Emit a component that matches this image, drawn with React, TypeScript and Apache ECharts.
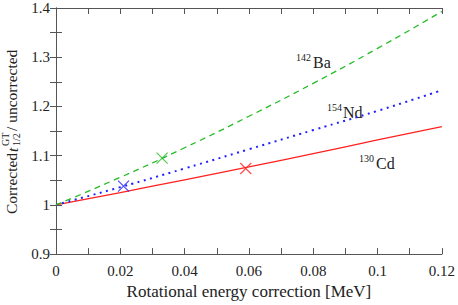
import React, { useEffect, useRef } from "react";
import * as echarts from "echarts";

const xValues = [0, 0.02, 0.04, 0.06, 0.08, 0.1, 0.12];
const cdValues = [1.0, 1.025, 1.051, 1.077, 1.104, 1.132, 1.159];
const ndValues = [1.0, 1.036, 1.074, 1.113, 1.152, 1.191, 1.233];
const baValues = [1.0, 1.056, 1.116, 1.18, 1.247, 1.318, 1.393];

const cdMarker = [0.059, 1.074];
const ndMarker = [0.021, 1.038];
const baMarker = [0.033, 1.095];

const xTitle = "Rotational energy correction [MeV]";

const FONT = "'Liberation Serif', 'Times New Roman', 'DejaVu Serif', serif";
const TXT = "#222";
const AX = "#555";
const RED = "#ff2020";
const BLUE = "#2020ff";
const GREEN = "#26bb26";
const CROSS = "path://M0,0L10,10M0,10L10,0";

const fmt = (v: number) => String(Number(v.toFixed(2)));

export default function App() {
  const ref = useRef<HTMLDivElement>(null);
  useEffect(() => {
    if (!ref.current) return;
    const chart = echarts.init(ref.current, undefined, { renderer: "svg" });
    const axisCommon = {
      type: "value" as const,
      axisLine: { show: true, lineStyle: { color: AX, width: 1 } },
      axisTick: { show: true, inside: true, length: 6, lineStyle: { color: AX } },
      minorTick: { show: true, splitNumber: 2, length: 6, lineStyle: { color: AX } },
      splitLine: { show: false },
    };
    const labelStyle = { fontFamily: FONT, fontSize: 15, color: TXT };
    const mk = (d: number[], color: string, name: string) => ({
      name,
      type: "scatter",
      data: [d],
      symbol: CROSS,
      symbolSize: 11,
      itemStyle: { color: "transparent", borderColor: color, borderWidth: 1.2 },
      z: 5,
    });
    const ln = (vals: number[], color: string, type: any, width: number, name: string) => ({
      name,
      type: "line",
      data: xValues.map((x, i) => [x, vals[i]]),
      smooth: true,
      showSymbol: false,
      lineStyle: { color, type, width, cap: "butt" },
    });
    const t = (text: string, x: number, y: number, size: number, extra: any = {}) => ({
      type: "text",
      x,
      y,
      rotation: extra.rotation || 0,
      style: {
        text,
        fontFamily: FONT,
        fontSize: size,
        fontStyle: extra.italic ? "italic" : "normal",
        fill: TXT,
        align: "left",
        verticalAlign: extra.va || "bottom",
      },
    });
    const R = Math.PI / 2;
    chart.setOption({
      animation: false,
      grid: { left: 56, right: 16, top: 8, bottom: 44 },
      xAxis: [
        {
          ...axisCommon,
          position: "bottom",
          min: 0,
          max: 0.12,
          interval: 0.02,
          axisLabel: { ...labelStyle, margin: 9, formatter: fmt, showMaxLabel: true },
          name: xTitle,
          nameLocation: "middle",
          nameGap: 21,
          nameTextStyle: { ...labelStyle, fontSize: 17, verticalAlign: "top" },
        },
        {
          ...axisCommon,
          position: "top",
          min: 0,
          max: 0.12,
          interval: 0.02,
          axisLabel: { show: false },
        },
      ],
      yAxis: [
        {
          ...axisCommon,
          position: "left",
          min: 0.9,
          max: 1.4,
          interval: 0.1,
          axisLabel: { ...labelStyle, margin: 6, formatter: (v: number) => String(Number(v.toFixed(1))) },
        },
        {
          ...axisCommon,
          position: "right",
          min: 0.9,
          max: 1.4,
          interval: 0.1,
          axisLabel: { show: false },
        },
      ],
      series: [
        ln(cdValues, RED, "solid", 1.3, "130Cd"),
        ln(ndValues, BLUE, [2, 4.5], 2, "154Nd"),
        ln(baValues, GREEN, [6, 4.5], 1.3, "142Ba"),
        mk(cdMarker, RED, "m1"),
        mk(ndMarker, BLUE, "m2"),
        mk(baMarker, GREEN, "m3"),
      ],
      graphic: [
        t("142", 296, 62, 10),
        t("Ba", 313, 70, 16),
        t("154", 327, 112, 10),
        t("Nd", 343, 120, 16),
        t("130", 359, 163, 10),
        t("Cd", 376, 171, 16),
        t("Corrected", 11, 214, 15.5, { rotation: R, va: "middle" }),
        t("t", 12, 152, 15.5, { rotation: R, va: "middle", italic: true }),
        t("GT", 5, 146, 10, { rotation: R, va: "middle" }),
        t("1/2", 16, 146, 10, { rotation: R, va: "middle" }),
        t("/ uncorrected", 11, 131, 15.5, { rotation: R, va: "middle" }),
      ],
    });
    return () => chart.dispose();
  }, []);
  return <div ref={ref} style={{ width: 458, height: 305, position: "absolute", left: 0, top: 0 }} />;
}
